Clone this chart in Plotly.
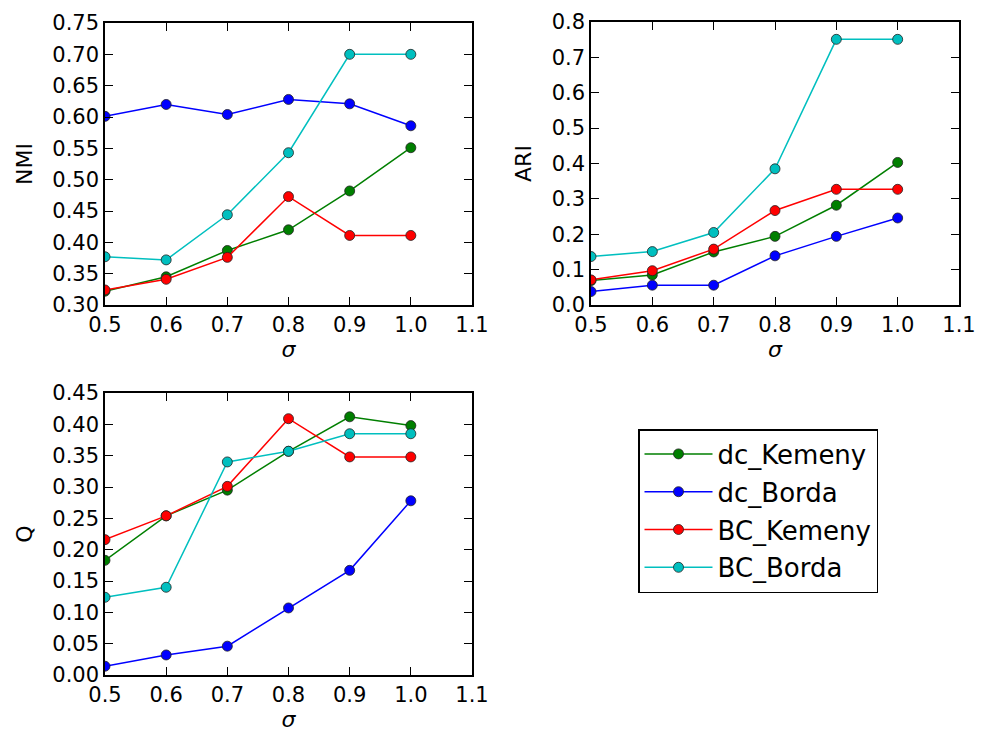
import plotly.graph_objects as go

sigma = [0.5, 0.6, 0.7, 0.8, 0.9, 1.0]
series_names = ["dc_Kemeny", "dc_Borda", "BC_Kemeny", "BC_Borda"]
colors = ["#007f00", "#0000ff", "#ff0000", "#00bfbf"]

nmi = {
    "dc_Kemeny": [0.322, 0.345, 0.387, 0.420, 0.482, 0.551],
    "dc_Borda":  [0.601, 0.620, 0.604, 0.628, 0.621, 0.586],
    "BC_Kemeny": [0.324, 0.341, 0.376, 0.473, 0.411, 0.411],
    "BC_Borda":  [0.377, 0.372, 0.444, 0.543, 0.700, 0.700],
}
ari = {
    "dc_Kemeny": [0.069, 0.085, 0.150, 0.194, 0.282, 0.403],
    "dc_Borda":  [0.038, 0.056, 0.056, 0.139, 0.194, 0.246],
    "BC_Kemeny": [0.071, 0.097, 0.158, 0.267, 0.327, 0.327],
    "BC_Borda":  [0.137, 0.151, 0.205, 0.385, 0.751, 0.751],
}
q = {
    "dc_Kemeny": [0.183, 0.254, 0.295, 0.357, 0.412, 0.398],
    "dc_Borda":  [0.014, 0.032, 0.046, 0.107, 0.167, 0.278],
    "BC_Kemeny": [0.216, 0.254, 0.301, 0.409, 0.348, 0.348],
    "BC_Borda":  [0.124, 0.140, 0.340, 0.357, 0.385, 0.385],
}

fig = go.Figure()
panels = [(nmi, "x", "y"), (ari, "x2", "y2"), (q, "x3", "y3")]
for pi, (data, xa, ya) in enumerate(panels):
    for name, col in zip(series_names, colors):
        fig.add_trace(go.Scatter(
            x=sigma, y=data[name], mode="lines+markers", name=name,
            xaxis=xa, yaxis=ya, showlegend=(pi == 0), legendgroup=name,
            line=dict(color=col, width=1.5),
            marker=dict(color=col, size=10, line=dict(color="#222222", width=0.8)),
        ))

W, H = 988, 733
def dx(a, b):
    return [a / W, b / W]
def dy(top, bot):
    return [1 - bot / H, 1 - top / H]

font = dict(family="DejaVu Sans", size=21, color="black")
common_x = dict(range=[0.5, 1.1], tickvals=[0.5, 0.6, 0.7, 0.8, 0.9, 1.0, 1.1],
                ticktext=["0.5", "0.6", "0.7", "0.8", "0.9", "1.0", "1.1"],
                ticks="inside", ticklen=8, tickwidth=1, tickcolor="black",
                showline=True, linecolor="black", linewidth=1.5, mirror="ticks",
                showgrid=False, zeroline=False, tickfont=font, automargin=False,
                title=dict(text="<i>σ</i>", font=dict(family="DejaVu Sans", size=22), standoff=0))
common_y = dict(ticks="inside", ticklen=8, tickwidth=1, tickcolor="black",
                showline=True, linecolor="black", linewidth=1.5, mirror="ticks",
                showgrid=False, zeroline=False, tickfont=font, automargin=False)

nmi_ticks = [0.30, 0.35, 0.40, 0.45, 0.50, 0.55, 0.60, 0.65, 0.70, 0.75]
ari_ticks = [0.0, 0.1, 0.2, 0.3, 0.4, 0.5, 0.6, 0.7, 0.8]
q_ticks = [0.00, 0.05, 0.10, 0.15, 0.20, 0.25, 0.30, 0.35, 0.40, 0.45]

ytitle_font = dict(family="DejaVu Sans", size=22, color="black")
fig.update_layout(
    width=W, height=H, margin=dict(l=0, r=0, t=0, b=0, autoexpand=False),
    paper_bgcolor="white", plot_bgcolor="white", font=font,
    xaxis=dict(domain=dx(105, 472), anchor="y", **common_x),
    yaxis=dict(domain=dy(23, 305), anchor="x", range=[0.30, 0.75], tickvals=nmi_ticks,
               ticktext=[f"{v:.2f}" for v in nmi_ticks],
               title=dict(text="NMI", standoff=14, font=ytitle_font), **common_y),
    xaxis2=dict(domain=dx(591, 959), anchor="y2", **common_x),
    yaxis2=dict(domain=dy(22, 305), anchor="x2", range=[0.0, 0.8], tickvals=ari_ticks,
                ticktext=[f"{v:.1f}" for v in ari_ticks],
                title=dict(text="ARI", standoff=14, font=ytitle_font), **common_y),
    xaxis3=dict(domain=dx(105, 472), anchor="y3", **common_x),
    yaxis3=dict(domain=dy(393, 675), anchor="x3", range=[0.0, 0.45], tickvals=q_ticks,
                ticktext=[f"{v:.2f}" for v in q_ticks],
                title=dict(text="Q", standoff=14, font=ytitle_font), **common_y),
    legend=dict(x=638 / W, y=1 - 429 / H, xanchor="left", yanchor="top",
                bordercolor="black", borderwidth=1.5, bgcolor="white",
                font=dict(family="DejaVu Sans", size=26, color="black"),
                itemwidth=68, tracegroupgap=1),
)

fig.write_html("out.html")
